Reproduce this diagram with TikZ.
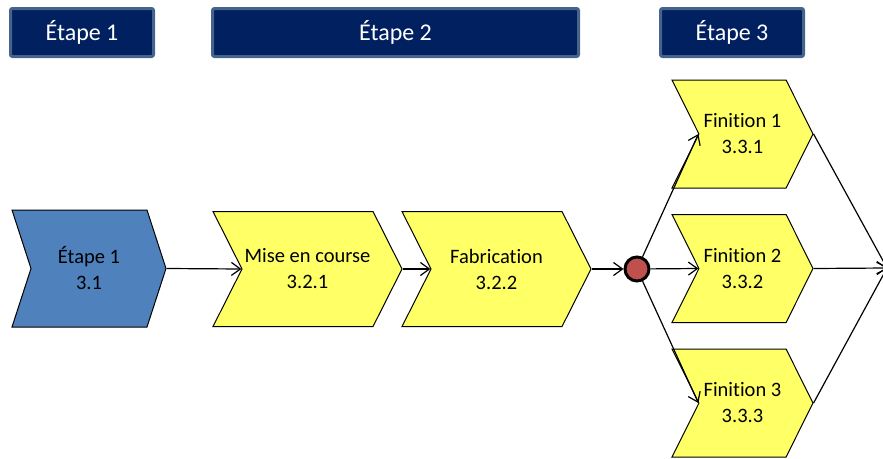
\documentclass[tikz,border=0pt]{standalone}
\usepackage{fontspec}
\setmainfont{Carlito}[Ligatures=CommonOff]
\usetikzlibrary{shapes.symbols,arrows.meta}

\definecolor{navy}{HTML}{002060}
\definecolor{navyrim}{HTML}{44648C}
\definecolor{stepblue}{HTML}{4F81BD}
\definecolor{stepyellow}{HTML}{FFFF66}
\definecolor{joinred}{HTML}{C0504D}

\tikzset{
  phase/.style={rectangle,rounded corners=2pt,fill=navy,draw=navyrim,line width=3pt,
    text=white,minimum height=48pt,font=\fontsize{24}{28}\selectfont},
  chevron/.style={signal,signal from=west,signal to=east,draw=black,line width=1pt,
    inner sep=0pt,align=center,font=\fontsize{20.5}{26}\selectfont},
  flow/.style={line width=1.2pt,-{Straight Barb[length=9pt,width=13pt]}}
}

\begin{document}
\begin{tikzpicture}[x=1pt,y=-1pt]
\useasboundingbox (0,0) rectangle (883,458);
% phases
\node[phase,minimum width=143pt] (ph1) at (82,32.5) {Étape 1};
\node[phase,minimum width=366pt] (ph2) at (395.5,32.5) {Étape 2};
\node[phase,minimum width=143pt] (ph3) at (732,32.5) {Étape 3};
% steps
\node[chevron,fill=stepblue,minimum width=154pt,minimum height=117pt,signal pointer angle=144]
  (s31) at (89,268.5) {Étape 1\\3.1};
\node[chevron,fill=stepyellow,minimum width=189pt,minimum height=115pt,signal pointer angle=126.5]
  (s321) at (307.5,269) {Mise en course\\3.2.1};
\node[chevron,fill=stepyellow,minimum width=189pt,minimum height=115pt,signal pointer angle=126.5]
  (s322) at (496.5,269) {Fabrication\\3.2.2};
\foreach \n/\y in {1/134,2/268.5,3/403}
\node[chevron,fill=stepyellow,minimum width=141pt,minimum height=108pt,signal pointer angle=127]
  (s33\n) at (742.5,\y) {Finition \n\\3.3.\n};
% join
\node[circle,fill=joinred,draw=black,line width=3pt,minimum size=24pt,inner sep=0pt] (join) at (637,269) {};
\coordinate (out) at (887,268);
% flows
\draw[flow] (s31.east) -- (s321.west);
\draw[flow] (s321.east) -- (s322.west);
\draw[flow] (s322.east) -- (join);
\foreach \n in {1,2,3}
{
\draw[flow] (join) -- (s33\n.west);
\draw[flow] (s33\n.east) -- (out);
}
\end{tikzpicture}
\end{document}
